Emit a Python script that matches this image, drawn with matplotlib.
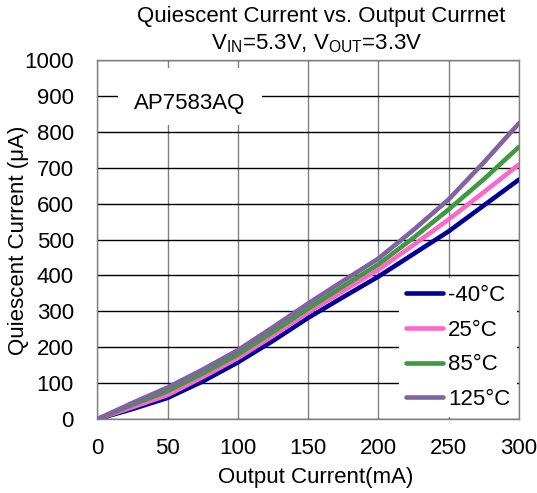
import matplotlib
matplotlib.use("Agg")
import matplotlib.pyplot as plt
from matplotlib.patches import Rectangle

plt.rcParams["font.family"] = ["Liberation Sans", "DejaVu Sans"]
plt.rcParams["mathtext.fontset"] = "custom"
plt.rcParams["mathtext.rm"] = "Liberation Sans"

# Data (Output current in mA, Iq in uA)
output_current = [0, 25, 50, 75, 100, 125, 150, 175, 200, 225, 250, 275, 300]
iq_m40 = [0, 28, 59, 105, 158, 218, 282, 340, 397, 460, 523, 595, 667]
iq_25 = [0, 33, 67, 117, 170, 232, 297, 357, 416, 485, 556, 632, 709]
iq_85 = [0, 40, 78, 127, 180, 243, 308, 370, 431, 505, 584, 668, 758]
iq_125 = [0, 45, 88, 138, 192, 256, 322, 385, 447, 527, 612, 715, 824]

series = [
    ("-40°C", iq_m40, "#000099"),
    ("25°C", iq_25, "#ff66cc"),
    ("85°C", iq_85, "#3f9a3f"),
    ("125°C", iq_125, "#8064a2"),
]

FS = 16

fig = plt.figure(figsize=(5.37, 4.93), dpi=100)
ax = fig.add_axes([0.1814, 0.150, 0.7851, 0.7283])

for label, values, color in series:
    ax.plot(output_current, values, color=color, lw=3.3, label=label,
            solid_capstyle="round", solid_joinstyle="round", zorder=3)

ax.set_xlim(0, 300)
ax.set_ylim(0, 1000)
ax.set_xticks(range(0, 301, 50))
ax.set_yticks(range(0, 1001, 100))
ax.tick_params(axis="y", length=0, labelsize=FS, pad=17)
ax.tick_params(axis="x", length=0, labelsize=FS, pad=14)

ax.xaxis.grid(True, color="#808080", lw=1.0, zorder=0)
ax.yaxis.grid(True, color="black", lw=1.0, zorder=0)
ax.set_axisbelow(True)
for sp in ax.spines.values():
    sp.set_color("#808080")
    sp.set_linewidth(1.0)

# part label box
ax.add_patch(Rectangle((0.049, 0.819), 0.341, 0.159, transform=ax.transAxes,
                       facecolor="white", edgecolor="none", zorder=1))
ax.text(0.218, 0.88, "AP7583AQ", transform=ax.transAxes, fontsize=FS,
        ha="center", va="center", zorder=2)

leg = ax.legend(loc="lower right", fontsize=FS, frameon=True,
                fancybox=False, framealpha=1, edgecolor="white",
                handlelength=1.7, handletextpad=0.2, labelspacing=0.62,
                borderaxespad=0.1, borderpad=0.3)
leg.get_frame().set_linewidth(0)

fig.text(0.588, 0.032, "Output Current(mA)", fontsize=FS,
         ha="center", va="center")
fig.text(0.034, 0.513, "Quiescent Current (μA)", fontsize=FS,
         ha="center", va="center", rotation=90)

fig.text(0.598, 0.966, "Quiescent Current vs. Output Currnet",
         fontsize=FS, ha="center", va="center")
fig.text(0.590, 0.912,
         r"V$_{\mathregular{IN}}$=5.3V, V$_{\mathregular{OUT}}$=3.3V",
         fontsize=FS, ha="center", va="center")

fig.savefig("out.png", dpi=100)
plt.close(fig)
